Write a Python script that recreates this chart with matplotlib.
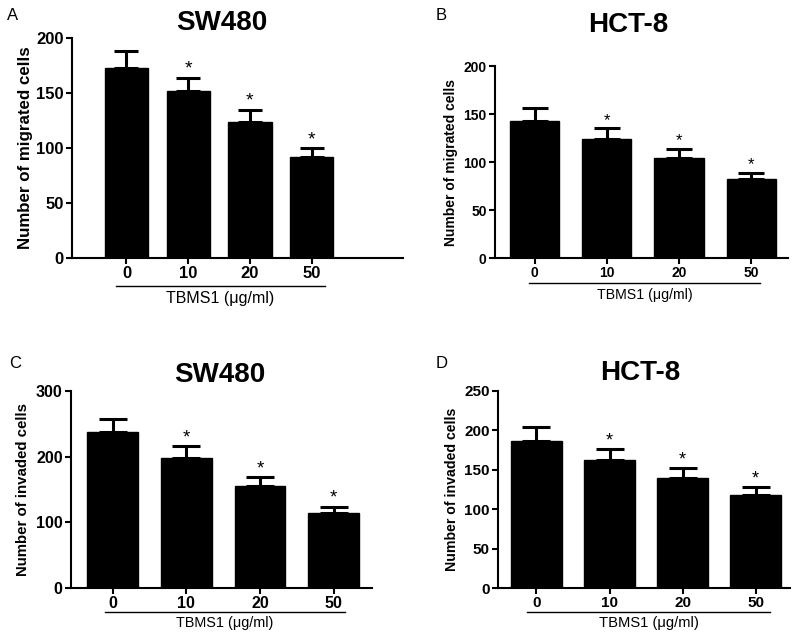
import matplotlib
matplotlib.use("Agg")
import matplotlib.pyplot as plt
from matplotlib.lines import Line2D

plt.rcParams['font.family'] = ['Liberation Sans', 'DejaVu Sans']

# data
doses = ['0', '10', '20', '50']
sw480_migrated = [173, 152, 124, 92]
sw480_migrated_err = [15, 12, 11, 8]
hct8_migrated = [143, 124, 104, 82]
hct8_migrated_err = [13, 11, 10, 7]
sw480_invaded = [237, 198, 155, 114]
sw480_invaded_err = [20, 18, 14, 10]
hct8_invaded = [187, 162, 140, 118]
hct8_invaded_err = [17, 14, 12, 10]
signif = ['', '*', '*', '*']

W, H = 800, 637
fig = plt.figure(figsize=(W / 100, H / 100), dpi=100)


def px_axes(x0, x1, y_top, y_bot):
    return fig.add_axes([x0 / W, 1 - y_bot / H, (x1 - x0) / W, (y_bot - y_top) / H])


def panel(box, xlim, width, ymax, ystep, vals, errs, ylabel, title, title_xy,
          letter, letter_xy, underline, lab_y, fs_tick, fs_ylab, fs_lab, lpad=4):
    ax = px_axes(*box)
    x = range(len(doses))
    # bar width in pixels -> cap half-length in points
    bar_px = width * (box[1] - box[0]) / (xlim[1] - xlim[0])
    cap = bar_px * 0.27 * 0.72
    ax.bar(x, vals, width=width, color='black', edgecolor='black')
    ax.errorbar(x, vals, yerr=[[0] * len(errs), errs], fmt='none', ecolor='black',
                elinewidth=2.2, capsize=cap, capthick=2.2)
    for xi, v, e, s in zip(x, vals, errs, signif):
        if s:
            ax.annotate(s, (xi, v + e), xytext=(0, 0), textcoords='offset points',
                        ha='center', va='bottom', fontsize=fs_tick + 2)
    ax.set_xlim(*xlim)
    ax.set_ylim(0, ymax)
    ax.set_yticks(range(0, ymax + 1, ystep))
    ax.set_xticks(list(x))
    ax.set_xticklabels(doses)
    for sp in ['top', 'right']:
        ax.spines[sp].set_visible(False)
    for sp in ['left', 'bottom']:
        ax.spines[sp].set_linewidth(1.5)
    ax.tick_params(width=1.5, length=4, labelsize=fs_tick, pad=2)
    for t in ax.get_xticklabels() + ax.get_yticklabels():
        t.set_fontweight('bold')
    ax.set_ylabel(ylabel, fontsize=fs_ylab, fontweight='bold', labelpad=lpad)
    fig.text(title_xy[0] / W, 1 - title_xy[1] / H, title, fontsize=20,
             fontweight='bold', ha='center', va='center')
    fig.text(letter_xy[0] / W, 1 - letter_xy[1] / H, letter, fontsize=12,
             ha='left', va='center')
    ux0, ux1, uy = underline
    fig.add_artist(Line2D([ux0 / W, ux1 / W], [1 - uy / H, 1 - uy / H],
                          color='black', lw=1))
    fig.text((ux0 + ux1) / 2 / W, 1 - lab_y / H, 'TBMS1 (\u03bcg/ml)',
             fontsize=fs_lab, ha='center', va='center')
    return ax


panel((72, 403, 38, 258), (-0.883, 4.48), 0.70, 200, 50,
      sw480_migrated, sw480_migrated_err, 'Number of migrated cells',
      'SW480', (222, 23), 'A', (7, 16), (116, 325, 286), 298, 12, 12.2, 11.5, lpad=2)
panel((495, 788, 66, 258), (-0.547, 3.51), 0.68, 200, 50,
      hct8_migrated, hct8_migrated_err, 'Number of migrated cells',
      'HCT-8', (628, 25), 'B', (436, 16), (529, 760, 283), 295, 10, 10, 10.2)
panel((71, 372, 391, 588), (-0.563, 3.52), 0.69, 300, 100,
      sw480_invaded, sw480_invaded_err, 'Number of invaded cells',
      'SW480', (220, 375), 'C', (9, 363), (105, 345, 612), 623, 11.5, 10.8, 10.4)
panel((498, 790, 391, 588), (-0.527, 3.47), 0.70, 250, 50,
      hct8_invaded, hct8_invaded_err, 'Number of invaded cells',
      'HCT-8', (640, 373), 'D', (436, 363), (527, 770, 612), 623, 11, 10.2, 10.6)

fig.savefig('out.png', dpi=100)
